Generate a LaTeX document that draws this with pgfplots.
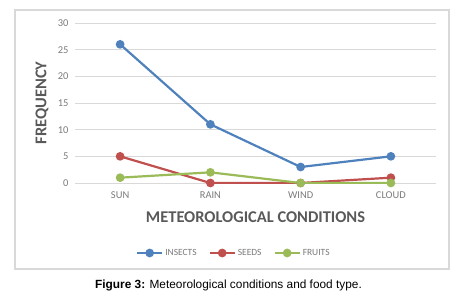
\documentclass[border=0pt]{standalone}
\usepackage{pgfplots}
\pgfplotsset{compat=1.18}
\usepackage{fontspec}
\setmainfont{Carlito}
\newfontfamily\arialfont{Liberation Sans}
\definecolor{cblue}{HTML}{4F81BD}
\definecolor{cred}{HTML}{C0504D}
\definecolor{cgreen}{HTML}{9BBB59}
\definecolor{tgray}{HTML}{595959}
\definecolor{lgray}{HTML}{7A7A7A}
\definecolor{ggray}{HTML}{D9D9D9}
\begin{document}
\begin{tikzpicture}[x=1bp,y=1bp]
\path[use as bounding box] (0,0) rectangle (475,297);
\draw[ggray, line width=1.2bp] (15,28) rectangle (449,287);
\begin{axis}[
  at={(75bp,114bp)}, anchor=south west,
  scale only axis, width=361bp, height=160bp,
  xmin=-0.5, xmax=3.5, ymin=0, ymax=30,
  xtick={0,1,2,3}, xticklabels={SUN,RAIN,WIND,CLOUD},
  ytick={0,5,10,15,20,25,30},
  ymajorgrids, grid style={ggray, line width=0.8bp},
  axis line style={draw=none}, major tick length=0,
  tick label style={font=\fontsize{10.5}{12}\selectfont, text=lgray},
  /pgf/number format/assume math mode=true,
  yticklabel style={xshift=-3bp},
  xticklabel style={yshift=-5bp},
  xlabel={METEOROLOGICAL CONDITIONS},
  ylabel={FREQUENCY},
  label style={font=\fontsize{16.5}{18}\selectfont\bfseries, text=tgray},
  xlabel style={at={(axis description cs:0.5,-0.2125)}, anchor=center},
  ylabel style={at={(axis description cs:-0.0914,0.5)}, anchor=center, rotate=0},
  legend style={at={(axis description cs:0.44,-0.4375)}, anchor=center, draw=none,
    font=\fontsize{9.5}{11}\selectfont, text=lgray, legend columns=3,
    /tikz/every even column/.append style={column sep=10bp}, inner sep=1bp},
  legend image code/.code={\draw[mark repeat=2,mark phase=2] plot coordinates {(0bp,0bp) (12.5bp,0bp) (25bp,0bp)};},
  every axis plot/.append style={line width=2.2bp, mark=*, mark size=3.2bp},
]
\addplot[cblue, mark options={fill=cblue}] coordinates {(0,26) (1,11) (2,3) (3,5)};
\addplot[cred, mark options={fill=cred}] coordinates {(0,5) (1,0) (2,0) (3,1)};
\addplot[cgreen, mark options={fill=cgreen}] coordinates {(0,1) (1,2) (2,0) (3,0)};
\legend{INSECTS,SEEDS,FRUITS}
\end{axis}
\node[font=\arialfont\fontsize{11.9}{14}\selectfont] at (228.5,12) {\textbf{Figure 3:} Meteorological conditions and food type.};
\end{tikzpicture}
\end{document}
